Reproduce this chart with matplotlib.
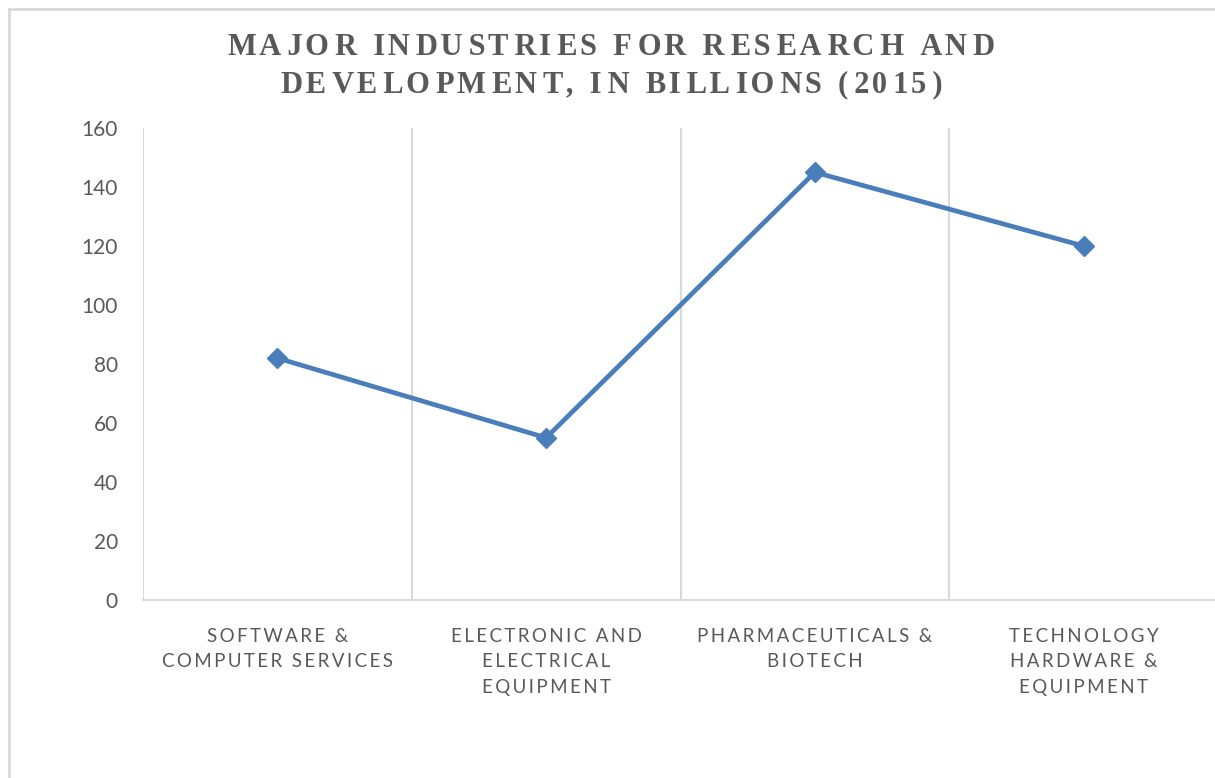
import matplotlib.pyplot as plt
from matplotlib.lines import Line2D

# data
categories = [
    "SOFTWARE &\nCOMPUTER SERVICES",
    "ELECTRONIC AND\nELECTRICAL\nEQUIPMENT",
    "PHARMACEUTICALS &\nBIOTECH",
    "TECHNOLOGY\nHARDWARE &\nEQUIPMENT",
]
rd_spend = [82, 55, 145, 120]
y_ticks = [0, 20, 40, 60, 80, 100, 120, 140, 160]

title = "MAJOR INDUSTRIES FOR RESEARCH AND\nDEVELOPMENT, IN BILLIONS (2015)"

TEXT = "#595959"
GRID = "#d9d9d9"
LINE = "#4a7ebb"


def track(s, seps=("\u2009",)):
    # crude letter spacing: narrow spaces between characters of each line
    out = []
    for line in s.split("\n"):
        t = line[0]
        for i, ch in enumerate(line[1:]):
            t += seps[i % len(seps)] + ch
        out.append(t)
    return "\n".join(out)


fig = plt.figure(figsize=(12.15, 7.78), dpi=100)
W, H = 1215, 778

# outer chart border (only left and top edges are visible in the crop)
fig.add_artist(Line2D([9 / W, 9 / W], [0, 1 - 9 / H], color=GRID, lw=2))
fig.add_artist(Line2D([9 / W, 1], [1 - 9 / H, 1 - 9 / H], color=GRID, lw=2))

ax = fig.add_axes([143 / W, 1 - 600 / H, (1218 - 143) / W, (600 - 128) / H])

x = [i + 0.5 for i in range(len(categories))]
ax.plot(x, rd_spend, color=LINE, lw=3.4, marker="D", ms=10.5,
        solid_joinstyle="miter", zorder=3, clip_on=False)

ax.set_xlim(0, len(categories))
ax.set_ylim(0, 160)
ax.set_yticks(y_ticks)
ax.set_yticklabels([str(v) for v in y_ticks], fontfamily="Lato", fontsize=15, color=TEXT)
ax.tick_params(axis="y", length=0, pad=18)

# vertical gridlines at category boundaries
for b in range(len(categories) + 1):
    ax.axvline(b, color=GRID, lw=1.5, zorder=1)

ax.set_xticks(x)
ax.set_xticklabels([track(c) for c in categories], fontfamily="Lato",
                   fontsize=13.5, color=TEXT, linespacing=1.6)
ax.tick_params(axis="x", length=0, pad=20)

for side in ["top", "right", "left"]:
    ax.spines[side].set_visible(False)
ax.spines["bottom"].set_color(GRID)
ax.spines["bottom"].set_linewidth(1.5)

fig.text(612 / W, 1 - 66 / H, track(title, ("\u200a", "\u2009")), ha="center",
         va="center", fontfamily="Liberation Serif", fontweight="bold",
         fontsize=22, color=TEXT, linespacing=1.36)

fig.savefig("out.png", dpi=100)
